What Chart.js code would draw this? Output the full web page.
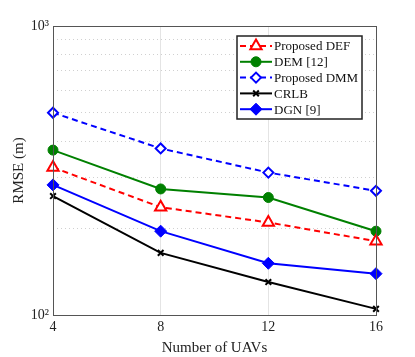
<!DOCTYPE html>
<html><head><meta charset="utf-8">
<script src="https://cdn.jsdelivr.net/npm/chart.js@4"></script>
<style>html,body{margin:0;padding:0;background:#fff}#wrap{width:415px;height:357px}</style>
</head><body><div id="wrap"><canvas id="c" width="415" height="357"></canvas></div>
<script>
const categories = ['4', '8', '12', '16'];
const proposedDEF = [324, 236, 209, 180];
const dem12 = [372, 273, 255, 195];
const proposedDMM = [501, 377, 311, 269];
const crlb = [258, 164, 130, 105];
const dgn9 = [282, 195, 151, 139];
const yTickLabels = {100: '10\u00B2', 1000: '10\u00B3'};

const FONT = 'Liberation Serif';

const boxPlugin = {
  id: 'box',
  afterDraw(chart) {
    const {ctx, chartArea: a} = chart;
    ctx.save();
    ctx.strokeStyle = '#555';
    ctx.lineWidth = 1;
    ctx.strokeRect(a.left + 0.5, a.top + 0.5, a.right - a.left, a.bottom - a.top);
    ctx.restore();
  }
};

const legendPlugin = {
  id: 'customLegend',
  afterDraw(chart) {
    const {ctx, chartArea: a} = chart;
    const w = 125, rowH = 15.8, h = 83;
    const x0 = a.right - 139, y0 = a.top + 10;
    ctx.save();
    ctx.fillStyle = '#fff';
    ctx.fillRect(x0, y0, w, h);
    ctx.strokeStyle = '#222';
    ctx.lineWidth = 1.5;
    ctx.strokeRect(x0, y0, w, h);
    ctx.font = '13px "' + FONT + '"';
    ctx.textBaseline = 'middle';
    chart.data.datasets.forEach((ds, i) => {
      const y = y0 + 10 + i * rowH;
      ctx.save();
      ctx.strokeStyle = ds.borderColor;
      ctx.lineWidth = ds.borderWidth;
      ctx.setLineDash(ds.borderDash || []);
      ctx.beginPath();
      ctx.moveTo(x0 + 3, y);
      ctx.lineTo(x0 + 35, y);
      ctx.stroke();
      ctx.restore();
      ctx.save();
      ctx.setLineDash([]);
      ctx.strokeStyle = ds.pointBorderColor;
      ctx.fillStyle = ds.pointBackgroundColor;
      ctx.lineWidth = ds.pointBorderWidth;
      Chart.helpers.drawPoint(ctx, {pointStyle: ds.pointStyle, radius: ds.pointRadius, borderWidth: ds.pointBorderWidth, rotation: 0}, x0 + 19, y);
      ctx.restore();
      ctx.fillStyle = '#111';
      ctx.fillText(ds.label, x0 + 37, y + 1);
    });
    ctx.restore();
  }
};

function mk(label, data, color, dash, style, radius, filled, bw) {
  return {
    label, data,
    borderColor: color,
    backgroundColor: color,
    borderWidth: 2,
    borderDash: dash,
    pointStyle: style,
    pointRadius: radius,
    pointHoverRadius: radius,
    pointBorderColor: color,
    pointBackgroundColor: filled ? color : '#fff',
    pointBorderWidth: bw,
    tension: 0,
    fill: false
  };
}

new Chart(document.getElementById('c'), {
  type: 'line',
  data: {
    labels: categories,
    datasets: [
      mk('Proposed DEF', proposedDEF, '#ff0000', [6, 4], 'triangle', 6.5, false, 2),
      mk('DEM [12]', dem12, '#008000', [], 'circle', 5, true, 1),
      mk('Proposed DMM', proposedDMM, '#0000ff', [6, 4], 'rectRot', 5, false, 2),
      mk('CRLB', crlb, '#000000', [], 'crossRot', 4, false, 2),
      mk('DGN [9]', dgn9, '#0000ff', [], 'rectRot', 6, true, 1)
    ]
  },
  options: {
    responsive: false,
    animation: false,
    events: [],
    layout: {padding: {top: 26, right: 39, left: 0, bottom: 0}},
    plugins: {legend: {display: false}, tooltip: {enabled: false}},
    scales: {
      x: {
        type: 'category',
        offset: false,
        grid: {color: '#e4e4e4', lineWidth: 1, drawTicks: false},
        border: {display: false},
        ticks: {color: '#222', font: {family: FONT, size: 14}, padding: 4, maxRotation: 0},
        title: {display: true, text: 'Number of UAVs', color: '#222', font: {family: FONT, size: 15}, padding: {top: 0, bottom: 0}},
        afterFit(s) { s.height = 42; }
      },
      y: {
        type: 'logarithmic',
        min: 100, max: 1000,
        grid: {color: '#d0d0d0', lineWidth: 1, drawTicks: false},
        border: {display: false, dash: [1, 3]},
        ticks: {
          autoSkip: false,
          color: '#222',
          font: {family: FONT, size: 14},
          padding: 4,
          callback: (v) => yTickLabels[v] || ''
        },
        afterBuildTicks(s) {
          const t = [];
          for (let v = 100; v <= 1000; v += 100) t.push({value: v});
          s.ticks = t;
        },
        title: {display: true, text: 'RMSE (m)', color: '#222', font: {family: FONT, size: 15}, padding: {top: 10, bottom: 0}},
        afterFit(s) { s.width = 53; }
      }
    }
  },
  plugins: [boxPlugin, legendPlugin]
});
</script>
</body></html>
